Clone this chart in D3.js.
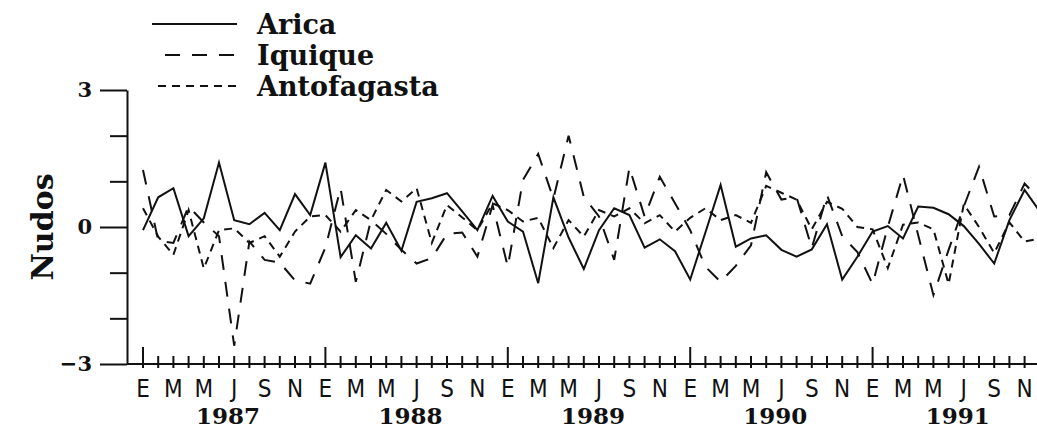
<!DOCTYPE html>
<html>
<head>
<meta charset="utf-8">
<script src="https://d3js.org/d3.v7.min.js"></script>
<style>
  body { margin: 0; background: #fff; }
  svg { display: block; }
</style>
</head>
<body>
<div class="chart"></div>
<script>
// monthly wind anomalies (knots), Jan 1987 - Dec 1991
const years = [1987, 1988, 1989, 1990, 1991];
const monthLabels = ["E", "", "M", "", "M", "", "J", "", "S", "", "N", ""];
const yTicks = [-3, -2, -1, 0, 1, 2, 3];
const yLabelled = [-3, 0, 3];

const arica = [-0.07, 0.65, 0.85, -0.2, 0.19, 1.41, 0.15, 0.06, 0.31, -0.07,
  0.72, 0.26, 1.41, -0.66, -0.18, -0.47, 0.09, -0.52, 0.55, 0.63,
  0.74, 0.34, -0.07, 0.68, 0.12, -0.1, -1.23, 0.65, -0.23, -0.92,
  -0.07, 0.41, 0.26, -0.45, -0.27, -0.53, -1.15, -0.12, 0.92, -0.43,
  -0.25, -0.18, -0.5, -0.65, -0.49, 0.06, -1.15, -0.65, -0.1, 0.02,
  -0.25, 0.45, 0.42, 0.28, 0.02, -0.37, -0.8, 0.15, 0.81, 0.34];

const iquique = [1.25, -0.3, -0.35, 0.45, 0.1, -0.2, -2.6, -0.32, -0.72, -0.78,
  -1.17, -1.24, -0.45, 0.85, -1.2, 0.15, -0.15, -0.5, -0.8, -0.68,
  -0.15, -0.12, -0.65, 0.48, -0.87, 1.03, 1.6, 0.62, 2.0, 0.66,
  0.23, -0.72, 1.3, 0.23, 1.1, 0.52, -0.07, -0.87, -1.2, -0.85,
  -0.4, 1.2, 0.6, 0.65, -0.46, 0.7, -0.2, -0.55, -1.25, 0.0,
  1.14, -0.18, -1.49, -0.5, 0.45, 1.32, 0.23, 0.26, 0.95, 0.59];

const antofagasta = [0.41, -0.21, -0.61, 0.37, -0.91, -0.07, -0.03, -0.35, -0.2, -0.65,
  -0.1, 0.23, 0.26, -0.1, 0.37, 0.15, 0.81, 0.56, 0.85, -0.35,
  0.48, 0.21, -0.07, 0.52, 0.37, 0.12, 0.2, -0.46, 0.15, -0.21,
  0.37, 0.23, 0.41, 0.08, 0.26, -0.1, 0.2, 0.41, 0.15, 0.26,
  0.09, 0.9, 0.75, 0.6, -0.05, 0.55, 0.4, 0.0, -0.05, -0.9,
  0.05, 0.1, -0.05, -1.25, 0.5, 0.0, -0.57, 0.1, -0.32, -0.25];

const series = [
  { name: "Arica", values: arica, dash: null },
  { name: "Iquique", values: iquique, dash: "15,12" },
  { name: "Antofagasta", values: antofagasta, dash: "8,6" }
];

const width = 1037, height = 434;
const ink = "#111";
const serif = "'DejaVu Serif', serif";

const svg = d3.select(".chart").append("svg")
    .attr("width", width)
    .attr("height", height);

const x = d3.scaleLinear().domain([0, 59]).range([143, 143 + 59 * 15.2]);
const y = d3.scaleLinear().domain([-3, 3]).range([364, 90]);
const axisX = 127;

// y axis: long ticks where labelled, short ones between
svg.append("g")
    .attr("transform", `translate(${axisX},0)`)
    .call(d3.axisLeft(y).tickValues(yLabelled).tickSize(27).tickSizeOuter(0)
        .tickFormat(d => d < 0 ? "\u2212" + Math.abs(d) : d))
    .call(g => g.selectAll("text")
        .attr("x", -35)
        .style("font-family", serif)
        .style("font-weight", "bold")
        .style("font-size", "21px")
        .attr("fill", ink));
svg.append("g")
    .attr("transform", `translate(${axisX},0)`)
    .call(d3.axisLeft(y).tickValues(yTicks.filter(d => !yLabelled.includes(d)))
        .tickSize(17).tickSizeOuter(0).tickFormat(""))
    .call(g => g.select(".domain").remove());
svg.selectAll(".domain, .tick line")
    .attr("stroke", ink)
    .attr("stroke-width", 2);

// x axis
svg.append("line")
    .attr("x1", axisX).attr("x2", width)
    .attr("y1", y(-3)).attr("y2", y(-3))
    .attr("stroke", ink)
    .attr("stroke-width", 2);

const months = d3.range(60);
svg.append("g")
    .selectAll("line")
    .data(months)
    .enter().append("line")
    .attr("x1", d => x(d)).attr("x2", d => x(d))
    .attr("y1", d => d % 12 === 0 ? y(-3) - 17 : y(-3) - 8)
    .attr("y2", y(-3) + 4)
    .attr("stroke", ink)
    .attr("stroke-width", 2);

svg.append("g")
    .selectAll("text")
    .data(months.filter(d => monthLabels[d % 12] !== ""))
    .enter().append("text")
    .attr("x", d => x(d))
    .attr("y", 397)
    .attr("text-anchor", "middle")
    .style("font-family", "'Liberation Sans Narrow', 'DejaVu Sans Condensed', sans-serif")
    .style("font-size", "24px")
    .attr("fill", ink)
    .text(d => monthLabels[d % 12]);

svg.append("g")
    .selectAll("text")
    .data(years)
    .enter().append("text")
    .attr("x", (d, i) => x(i * 12 + 5.6))
    .attr("y", 424)
    .attr("text-anchor", "middle")
    .style("font-family", serif)
    .style("font-weight", "bold")
    .style("font-size", "23px")
    .attr("fill", ink)
    .text(d => d);

// axis title
svg.append("text")
    .attr("transform", `translate(53,${y(0)}) rotate(-90)`)
    .attr("text-anchor", "middle")
    .style("font-family", serif)
    .style("font-weight", "bold")
    .style("font-size", "30px")
    .attr("fill", ink)
    .text("Nudos");

// series
const line = d3.line()
    .x((d, i) => x(i))
    .y(d => y(d));

svg.append("g")
    .selectAll("path")
    .data(series)
    .enter().append("path")
    .attr("d", d => line(d.values))
    .attr("fill", "none")
    .attr("stroke", ink)
    .attr("stroke-width", 2)
    .attr("stroke-dasharray", d => d.dash);

// legend
const legend = svg.append("g")
    .selectAll("g")
    .data(series)
    .enter().append("g")
    .attr("transform", (d, i) => `translate(0,${24 + i * 31})`);

legend.append("line")
    .attr("x1", (d, i) => [152, 165, 158][i])
    .attr("x2", 237)
    .attr("stroke", ink)
    .attr("stroke-width", 2)
    .attr("stroke-dasharray", d => d.dash);

legend.append("text")
    .attr("x", 257)
    .attr("y", 10)
    .style("font-family", serif)
    .style("font-weight", "bold")
    .style("font-size", "27px")
    .attr("fill", ink)
    .text(d => d.name);
</script>
</body>
</html>
